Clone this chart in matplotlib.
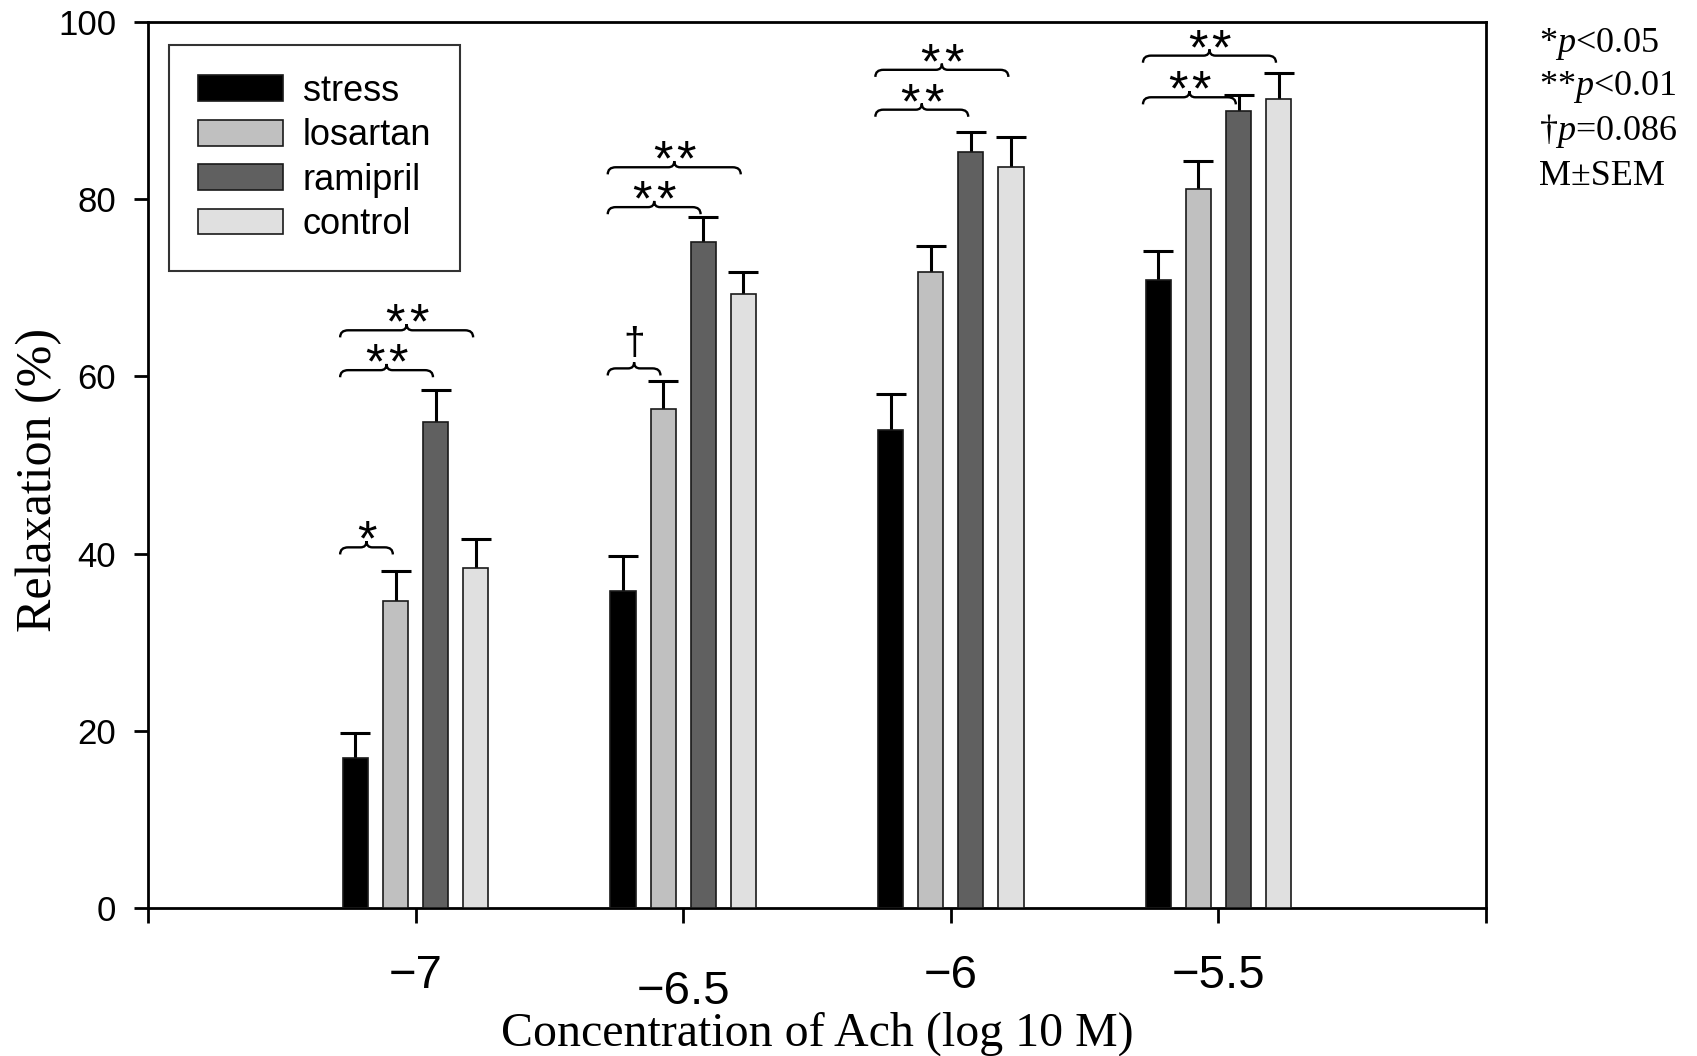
import numpy as np
import matplotlib
matplotlib.use("Agg")
import matplotlib.pyplot as plt
from matplotlib.path import Path
from matplotlib.patches import PathPatch
import matplotlib.transforms as mtransforms

# data (relaxation %, mean and SEM)
conc = [-7, -6.5, -6, -5.5]
groups = ["stress", "losartan", "ramipril", "control"]
stress = [16.9, 35.8, 54.0, 70.9]
stress_err = [2.9, 3.9, 4.0, 3.2]
losartan = [34.6, 56.3, 71.8, 81.2]
losartan_err = [3.4, 3.2, 2.9, 3.1]
ramipril = [54.8, 75.2, 85.3, 90.0]
ramipril_err = [3.7, 2.8, 2.3, 1.8]
control = [38.4, 69.3, 83.6, 91.3]
control_err = [3.2, 2.5, 3.4, 2.9]
colors = ["#000000", "#c0c0c0", "#606060", "#e0e0e0"]

# significance brackets: (concentration index, compared bar index, bracket level, mark)
brackets = [
    (0, 1, 40.7, "*"), (0, 2, 60.7, "**"), (0, 3, 65.2, "**"),
    (1, 1, 60.9, "\u2020"), (1, 2, 79.1, "**"), (1, 3, 83.6, "**"),
    (2, 2, 90.1, "**"), (2, 3, 94.6, "**"),
    (3, 2, 91.5, "**"), (3, 3, 96.2, "**"),
]
notes = ["*$p$<0.05", "**$p$<0.01", "\u2020$p$=0.086", "M\u00b1SEM"]

plt.rcParams["font.family"] = "Liberation Sans"
plt.rcParams["mathtext.fontset"] = "custom"
plt.rcParams["mathtext.rm"] = "Liberation Serif"
plt.rcParams["mathtext.it"] = "Liberation Serif:italic"

fig = plt.figure(figsize=(16.97, 10.56), dpi=100)
ax = fig.add_axes([0.0872, 0.1402, 0.7885, 0.8390])

step = 0.075
width = 0.047
series = [(stress, stress_err), (losartan, losartan_err),
          (ramipril, ramipril_err), (control, control_err)]
x = np.array(conc, dtype=float)
for i, (vals, errs) in enumerate(series):
    pos = x + (i - 1.5) * step
    ax.bar(pos, vals, width, color=colors[i], edgecolor="#1a1a1a",
           linewidth=1.2, label=groups[i], zorder=3)
    eb = ax.errorbar(pos, vals, yerr=[np.zeros(len(vals)), errs], fmt="none",
                     ecolor="black", elinewidth=2.2, capsize=10.5,
                     capthick=2.2, zorder=2)
    # hide the cap sitting on the bar top
    for cl in eb[1]:
        if np.allclose(cl.get_ydata(), vals):
            cl.set_visible(False)


def brace(x0, x1, y):
    h_end, h_mid = 0.8, 0.7
    r, r2 = 0.015, 0.011
    xm = (x0 + x1) / 2
    verts = [(x0, y - h_end), (x0, y), (x0 + r, y),
             (xm - r2, y), (xm, y), (xm, y + h_mid),
             (xm, y), (xm + r2, y),
             (x1 - r, y), (x1, y), (x1, y - h_end)]
    codes = [Path.MOVETO, Path.CURVE3, Path.CURVE3,
             Path.LINETO, Path.CURVE3, Path.CURVE3,
             Path.CURVE3, Path.CURVE3,
             Path.LINETO, Path.CURVE3, Path.CURVE3]
    ax.add_patch(PathPatch(Path(verts, codes), fill=False, lw=1.7,
                           edgecolor="black", zorder=4))
    return xm


for gi, bi, level, mark in brackets:
    x0 = conc[gi] - 1.5 * step - width / 2 - 0.005
    x1 = conc[gi] + (bi - 1.5) * step - 0.005
    xm = brace(x0, x1, level)
    if mark == "\u2020":
        ax.annotate(mark, (xm, level), xytext=(0, 10), textcoords="offset points",
                    ha="center", va="baseline", fontsize=28)
    else:
        n = len(mark)
        for k in range(n):
            dx = (k - (n - 1) / 2) * 17
            ax.annotate("*", (xm, level), xytext=(dx, -6), textcoords="offset points",
                        ha="center", va="baseline", fontsize=36)

ax.set_xlim(-7.5, -5.0)
ax.set_ylim(0, 100)
ax.set_xticks([-7.5, -7, -6.5, -6, -5.5, -5])
ax.set_xticklabels(["", "\u22127", "\u22126.5", "\u22126", "\u22125.5", ""], fontsize=34)
ax.set_yticks(np.arange(0, 101, 20))
ax.tick_params(axis="y", direction="out", length=10, width=2, labelsize=25, pad=13)
ax.tick_params(axis="x", direction="out", length=10.5, width=2, pad=23)
for sp in ax.spines.values():
    sp.set_linewidth(2)

# the -6.5 label sits lower in the original
lab = ax.get_xticklabels()[2]
lab.set_transform(lab.get_transform() +
                  mtransforms.ScaledTranslation(0, -11.5 / 72, fig.dpi_scale_trans))

leg = ax.legend(loc="upper left", bbox_to_anchor=(0.0157, 0.974), borderaxespad=0,
                fontsize=26, frameon=True, fancybox=False, edgecolor="black",
                handlelength=2.36, handleheight=0.72, handletextpad=0.55,
                labelspacing=0.26, borderpad=0.8)
leg.get_frame().set_linewidth(1.5)

fig.text(0.4814, 0.021, "Concentration of Ach (log 10 M)", family="Liberation Serif",
         fontsize=34.5, ha="center", va="center")
fig.text(0.023, 0.5455, "Relaxation (%)", family="Liberation Serif",
         fontsize=36, ha="center", va="center", rotation=90)

for txt, yy in zip(notes, [0.9508, 0.9100, 0.8674, 0.8248]):
    fig.text(0.9069, yy, txt, family="Liberation Serif", fontsize=26,
             ha="left", va="baseline")

fig.savefig("out.png", dpi=100)
